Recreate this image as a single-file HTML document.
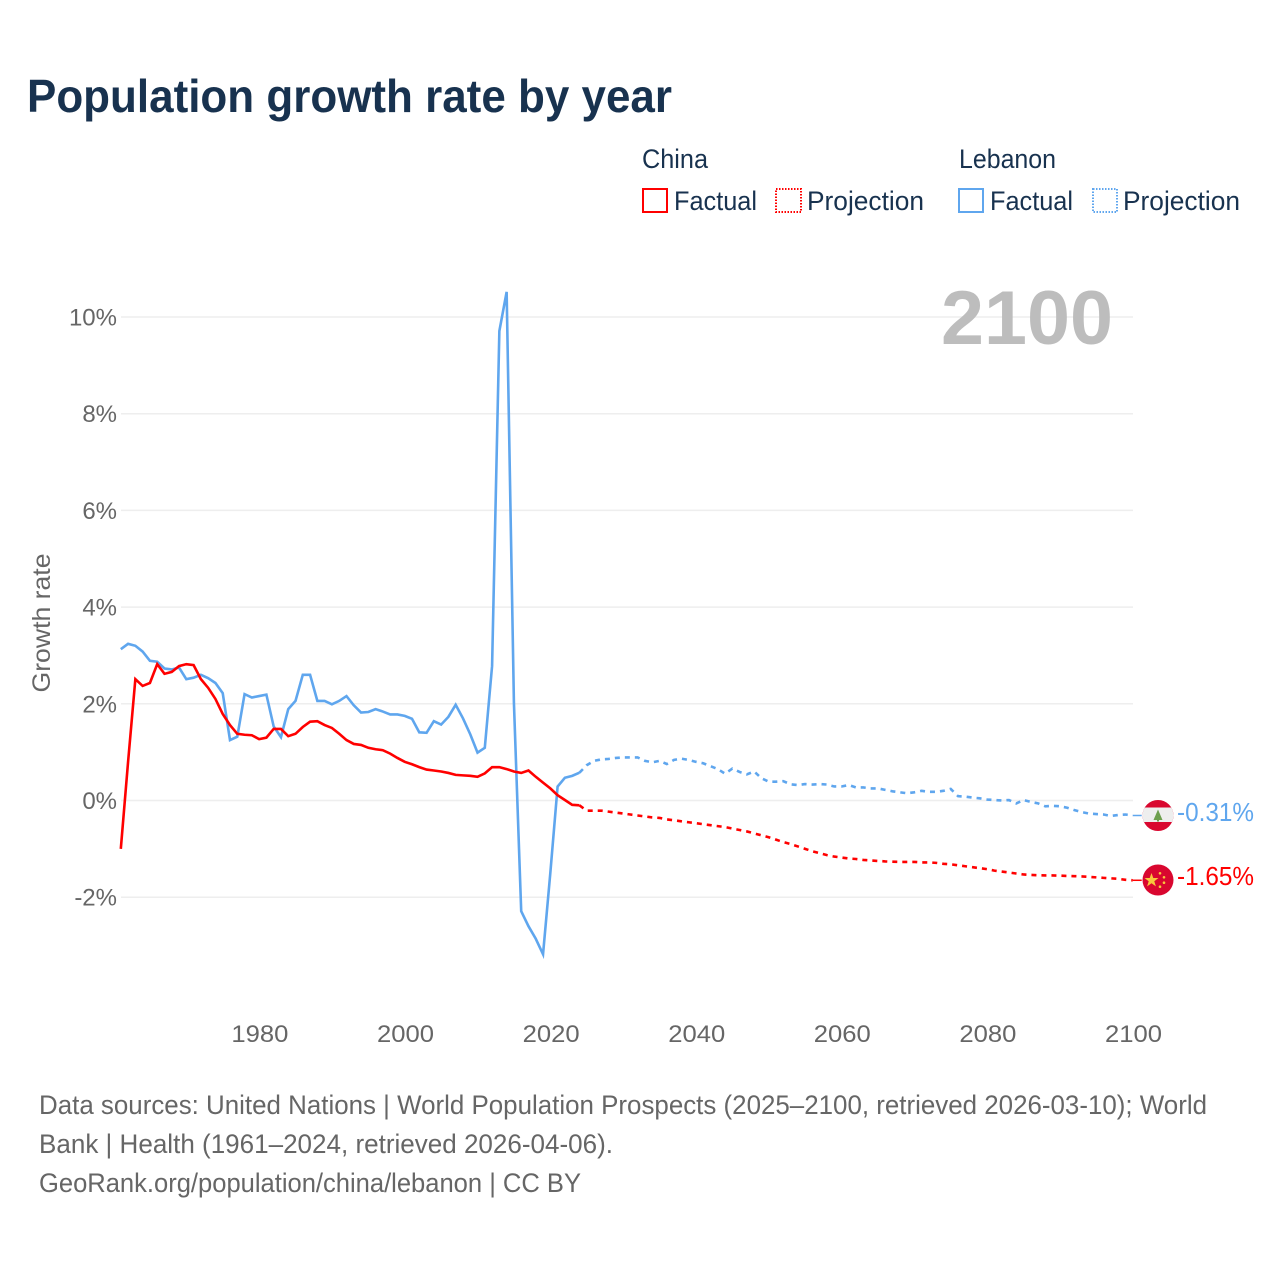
<!DOCTYPE html>
<html lang="en">
<head>
<meta charset="utf-8">
<title>Population growth rate by year</title>
<style>
html,body{margin:0;padding:0;background:#fff;}
svg{display:block;font-family:"Liberation Sans",sans-serif;}
</style>
</head>
<body>
<svg id="chart" xmlns="http://www.w3.org/2000/svg" width="1280" height="1280" viewBox="0 0 1280 1280">
  <rect x="0" y="0" width="1280" height="1280" fill="#ffffff"/>
  <text x="27" y="112" font-size="46" font-weight="700" fill="#18324f" textLength="645" lengthAdjust="spacingAndGlyphs">Population growth rate by year</text>

  <g font-size="27" fill="#18324f">
    <text x="642" y="168" textLength="66" lengthAdjust="spacingAndGlyphs">China</text>
    <rect x="643" y="189" width="24" height="23" fill="none" stroke="#ff0000" stroke-width="2"/>
    <text x="674" y="210" textLength="83" lengthAdjust="spacingAndGlyphs">Factual</text>
    <rect x="776" y="189" width="25" height="23" fill="none" stroke="#ff0000" stroke-width="2" stroke-dasharray="1.5 1.5"/>
    <text x="807" y="210" textLength="117" lengthAdjust="spacingAndGlyphs">Projection</text>
    <text x="959" y="168" textLength="97" lengthAdjust="spacingAndGlyphs">Lebanon</text>
    <rect x="959" y="189" width="24" height="23" fill="none" stroke="#5fa6ee" stroke-width="2"/>
    <text x="990" y="210" textLength="83" lengthAdjust="spacingAndGlyphs">Factual</text>
    <rect x="1093" y="189" width="24" height="23" fill="none" stroke="#5fa6ee" stroke-width="2" stroke-dasharray="1.5 1.5"/>
    <text x="1123" y="210" textLength="117" lengthAdjust="spacingAndGlyphs">Projection</text>
  </g>

  <text transform="translate(50 623) rotate(-90)" text-anchor="middle" font-size="25" fill="#666666" textLength="139" lengthAdjust="spacingAndGlyphs">Growth rate</text>
  <g id="grid"></g>
  <g id="yticks"></g>
  <g id="xticks"></g>

  <text x="941" y="344" font-size="76" font-weight="700" fill="#bdbdbd" textLength="172" lengthAdjust="spacingAndGlyphs">2100</text>

  <g id="series"></g>

  <g>
    <clipPath id="clipLb"><circle cx="1158" cy="815.5" r="15.5"/></clipPath>
    <g clip-path="url(#clipLb)">
      <rect x="1142" y="799" width="32" height="33" fill="#d9072f"/>
      <rect x="1142" y="807.5" width="32" height="14.5" fill="#eeeeee"/>
      <polygon points="1158,809.5 1162.5,820 1153.5,820" fill="#6d9f4e"/>
      <rect x="1157" y="819" width="2" height="2.5" fill="#6d9f4e"/>
    </g>
  </g>
  <g>
    <circle cx="1158" cy="880" r="15.5" fill="#d9072f"/>
    <polygon points="1151.5,873 1153.3,878 1158.5,878 1154.3,881.2 1155.9,886.4 1151.5,883.2 1147.1,886.4 1148.7,881.2 1144.5,878 1149.7,878" fill="#f8c83c"/>
    <circle cx="1160" cy="873.3" r="1.3" fill="#f8c83c"/>
    <circle cx="1164" cy="877.3" r="1.3" fill="#f8c83c"/>
    <circle cx="1164" cy="882.7" r="1.3" fill="#f8c83c"/>
    <circle cx="1160" cy="886.7" r="1.3" fill="#f8c83c"/>
  </g>
  <text x="1177" y="821" font-size="26" fill="#5fa6ee" textLength="77" lengthAdjust="spacingAndGlyphs">-0.31%</text>
  <text x="1177" y="885" font-size="26" fill="#ff0000" textLength="77" lengthAdjust="spacingAndGlyphs">-1.65%</text>

  <g font-size="27" fill="#666666">
    <text x="39" y="1114" textLength="1168" lengthAdjust="spacingAndGlyphs">Data sources: United Nations | World Population Prospects (2025–2100, retrieved 2026-03-10); World</text>
    <text x="39" y="1153" textLength="574" lengthAdjust="spacingAndGlyphs">Bank | Health (1961–2024, retrieved 2026-04-06).</text>
    <text x="39" y="1192" textLength="542" lengthAdjust="spacingAndGlyphs">GeoRank.org/population/china/lebanon | CC BY</text>
  </g>
</svg>
<script>
const factualStartYear = 1961;
const projectionStartYear = 2024;
const xTickYears = [1980, 2000, 2020, 2040, 2060, 2080, 2100];
const yTickValues = [-2, 0, 2, 4, 6, 8, 10];
const yTickLabels = ['-2%', '0%', '2%', '4%', '6%', '8%', '10%'];

const chinaFactual = [-1.0, 0.8, 2.51, 2.37, 2.43, 2.82, 2.62, 2.66, 2.78, 2.82, 2.80, 2.51, 2.33, 2.10, 1.79, 1.56, 1.38, 1.36, 1.35, 1.27, 1.30, 1.48, 1.48, 1.33, 1.38, 1.52, 1.63, 1.64, 1.56, 1.50, 1.38, 1.25, 1.17, 1.15, 1.09, 1.06, 1.04, 0.97, 0.88, 0.80, 0.75, 0.69, 0.64, 0.62, 0.60, 0.57, 0.53, 0.52, 0.51, 0.49, 0.56, 0.69, 0.69, 0.65, 0.60, 0.57, 0.62, 0.49, 0.37, 0.25, 0.11, 0.01, -0.09, -0.10];

const chinaProjection = [-0.10, -0.21, -0.21, -0.21, -0.23, -0.25, -0.27, -0.29, -0.31, -0.33, -0.35, -0.36, -0.39, -0.41, -0.43, -0.45, -0.47, -0.49, -0.51, -0.53, -0.55, -0.58, -0.61, -0.64, -0.68, -0.72, -0.76, -0.81, -0.86, -0.90, -0.95, -1.00, -1.05, -1.09, -1.13, -1.16, -1.18, -1.20, -1.21, -1.23, -1.24, -1.25, -1.26, -1.265, -1.27, -1.27, -1.27, -1.28, -1.28, -1.29, -1.31, -1.32, -1.34, -1.36, -1.38, -1.40, -1.42, -1.45, -1.47, -1.49, -1.51, -1.53, -1.54, -1.545, -1.55, -1.55, -1.555, -1.56, -1.565, -1.57, -1.58, -1.59, -1.60, -1.61, -1.62, -1.64, -1.65];

const lebanonFactual = [3.13, 3.24, 3.20, 3.08, 2.89, 2.87, 2.73, 2.71, 2.75, 2.51, 2.54, 2.60, 2.53, 2.43, 2.22, 1.25, 1.32, 2.20, 2.13, 2.16, 2.19, 1.53, 1.31, 1.89, 2.06, 2.60, 2.60, 2.06, 2.06, 1.99, 2.06, 2.16, 1.97, 1.82, 1.83, 1.89, 1.84, 1.78, 1.78, 1.75, 1.69, 1.41, 1.40, 1.64, 1.57, 1.73, 1.98, 1.70, 1.37, 0.99, 1.09, 2.78, 9.71, 10.52, 2.02, -2.29, -2.60, -2.86, -3.18, -1.50, 0.29, 0.47, 0.51, 0.575];

const lebanonProjection = [0.575, 0.73, 0.82, 0.85, 0.86, 0.88, 0.89, 0.89, 0.89, 0.82, 0.79, 0.82, 0.755, 0.84, 0.865, 0.84, 0.80, 0.77, 0.71, 0.65, 0.555, 0.66, 0.59, 0.54, 0.60, 0.46, 0.39, 0.39, 0.40, 0.335, 0.32, 0.34, 0.33, 0.34, 0.33, 0.29, 0.29, 0.32, 0.27, 0.27, 0.25, 0.25, 0.22, 0.19, 0.17, 0.15, 0.17, 0.20, 0.18, 0.18, 0.20, 0.24, 0.09, 0.08, 0.06, 0.045, 0.02, 0.01, 0.00, 0.01, -0.06, 0.01, -0.03, -0.06, -0.12, -0.11, -0.12, -0.15, -0.20, -0.24, -0.27, -0.28, -0.29, -0.32, -0.30, -0.29, -0.31];

const SVG_NS = 'http://www.w3.org/2000/svg';
function xScale(year) { return 120.8 + (year - 1961) * 7.28; }
function yScale(value) { return 800.5 - value * 48.35; }

function linePoints(values, startYear) {
  return values.map(function (v, i) {
    return xScale(startYear + i).toFixed(2) + ',' + yScale(v).toFixed(2);
  }).join(' ');
}

const gridGroup = document.getElementById('grid');
const yTickGroup = document.getElementById('yticks');
yTickValues.forEach(function (v, i) {
  const gridLine = document.createElementNS(SVG_NS, 'line');
  
  
  gridLine.setAttribute('x1', 121);
  gridLine.setAttribute('x2', 1133);
  gridLine.setAttribute('y1', yScale(v));
  gridLine.setAttribute('y2', yScale(v));
  gridLine.setAttribute('stroke', '#eeeeee');
  gridLine.setAttribute('stroke-width', '1.5');
  gridGroup.appendChild(gridLine);

  const label = document.createElementNS(SVG_NS, 'text');
  
  
  label.setAttribute('x', 117);
  label.setAttribute('y', yScale(v) + 8.5);
  label.setAttribute('text-anchor', 'end');
  label.setAttribute('font-size', '24');
  label.setAttribute('fill', '#666666');
  label.textContent = yTickLabels[i];
  yTickGroup.appendChild(label);
});

const xTickGroup = document.getElementById('xticks');
xTickYears.forEach(function (year) {
  const label = document.createElementNS(SVG_NS, 'text');
  
  
  label.setAttribute('x', xScale(year) - 27.7);
  label.setAttribute('y', 1042);
  label.setAttribute('font-size', '24');
  label.setAttribute('fill', '#666666');
  label.setAttribute('textLength', '57');
  label.setAttribute('lengthAdjust', 'spacingAndGlyphs');
  label.textContent = String(year);
  xTickGroup.appendChild(label);
});

const seriesGroup = document.getElementById('series');

const lebanonFactualLine = document.createElementNS(SVG_NS, 'polyline');


lebanonFactualLine.setAttribute('points', linePoints(lebanonFactual, factualStartYear));
lebanonFactualLine.setAttribute('fill', 'none');
lebanonFactualLine.setAttribute('stroke', '#5fa6ee');
lebanonFactualLine.setAttribute('stroke-width', '2.6');
seriesGroup.appendChild(lebanonFactualLine);

const lebanonProjectionLine = document.createElementNS(SVG_NS, 'polyline');


lebanonProjectionLine.setAttribute('points', linePoints(lebanonProjection, projectionStartYear));
lebanonProjectionLine.setAttribute('fill', 'none');
lebanonProjectionLine.setAttribute('stroke', '#5fa6ee');
lebanonProjectionLine.setAttribute('stroke-width', '2.6');
lebanonProjectionLine.setAttribute('stroke-dasharray', '5 5');
seriesGroup.appendChild(lebanonProjectionLine);

const chinaFactualLine = document.createElementNS(SVG_NS, 'polyline');


chinaFactualLine.setAttribute('points', linePoints(chinaFactual, factualStartYear));
chinaFactualLine.setAttribute('fill', 'none');
chinaFactualLine.setAttribute('stroke', '#ff0000');
chinaFactualLine.setAttribute('stroke-width', '2.6');
seriesGroup.appendChild(chinaFactualLine);

const chinaProjectionLine = document.createElementNS(SVG_NS, 'polyline');


chinaProjectionLine.setAttribute('points', linePoints(chinaProjection, projectionStartYear));
chinaProjectionLine.setAttribute('fill', 'none');
chinaProjectionLine.setAttribute('stroke', '#ff0000');
chinaProjectionLine.setAttribute('stroke-width', '2.6');
chinaProjectionLine.setAttribute('stroke-dasharray', '5 5');
seriesGroup.appendChild(chinaProjectionLine);

const lebanonConnector = document.createElementNS(SVG_NS, 'line');


lebanonConnector.setAttribute('x1', xScale(2100));
lebanonConnector.setAttribute('x2', xScale(2100) + 9);
lebanonConnector.setAttribute('y1', yScale(lebanonProjection[lebanonProjection.length - 1]));
lebanonConnector.setAttribute('y2', yScale(lebanonProjection[lebanonProjection.length - 1]));
lebanonConnector.setAttribute('stroke', '#5fa6ee');
lebanonConnector.setAttribute('stroke-width', '1.5');
seriesGroup.appendChild(lebanonConnector);

const chinaConnector = document.createElementNS(SVG_NS, 'line');


chinaConnector.setAttribute('x1', xScale(2100));
chinaConnector.setAttribute('x2', xScale(2100) + 9);
chinaConnector.setAttribute('y1', yScale(chinaProjection[chinaProjection.length - 1]));
chinaConnector.setAttribute('y2', yScale(chinaProjection[chinaProjection.length - 1]));
chinaConnector.setAttribute('stroke', '#ff0000');
chinaConnector.setAttribute('stroke-width', '1.5');
seriesGroup.appendChild(chinaConnector);
</script>
</body>
</html>
